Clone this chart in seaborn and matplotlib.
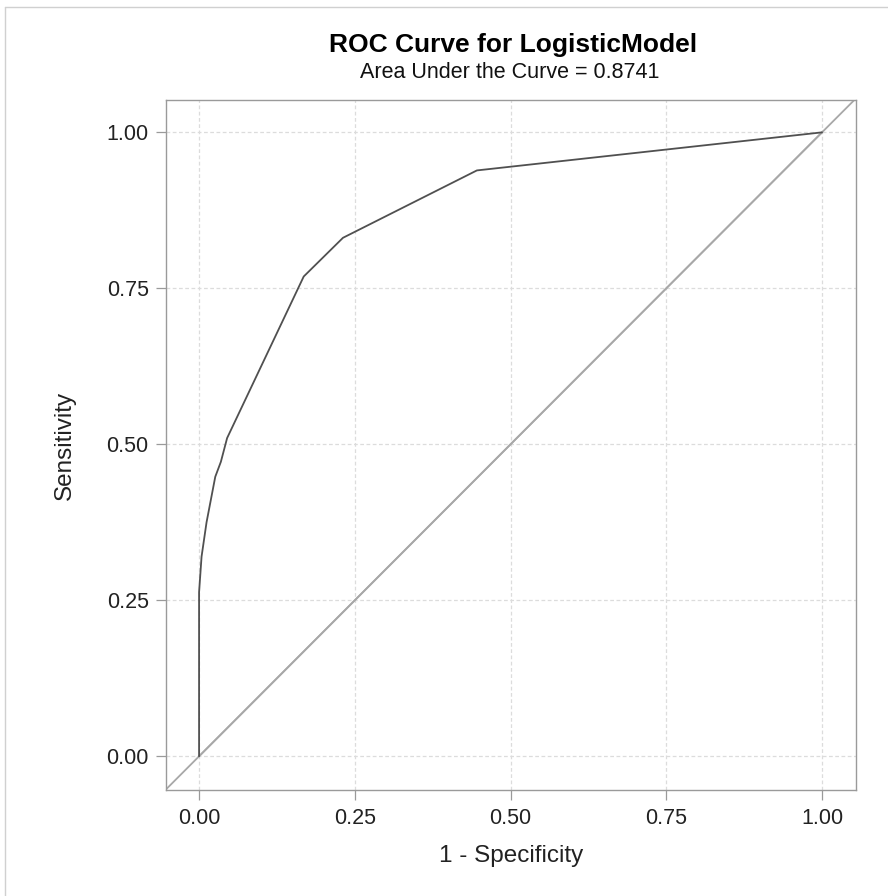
import matplotlib
matplotlib.use("Agg")
import matplotlib.pyplot as plt
import pandas as pd
import seaborn as sns
from matplotlib.lines import Line2D

# ROC points
fpr = [0.0, 0.0, 0.004, 0.012, 0.026, 0.035, 0.045, 0.168, 0.231, 0.446, 1.0]
tpr = [0.0, 0.263, 0.32, 0.375, 0.448, 0.472, 0.51, 0.769, 0.831, 0.939, 1.0]
diag = [0.0, 1.0]
auc = 0.8741
ticks = [0.0, 0.25, 0.5, 0.75, 1.0]

sns.set_style("white")
plt.rcParams["font.family"] = ["Liberation Sans", "DejaVu Sans"]

fig = plt.figure(figsize=(8.88, 8.96), dpi=100)
ax = fig.add_axes([0.187, 0.118, 0.777, 0.770])

df = pd.DataFrame({"fpr": fpr, "tpr": tpr})
sns.lineplot(data=df, x="fpr", y="tpr", sort=False, estimator=None,
             color="#505050", linewidth=1.3, ax=ax, zorder=3)
sns.lineplot(x=diag, y=diag, color="#a8a8a8", linewidth=1.3, ax=ax, zorder=2)
# extend diagonal across whole frame
ax.axline((0, 0), (1, 1), color="#a8a8a8", linewidth=1.3, zorder=2)

ax.set_xlim(-0.053, 1.0546)
ax.set_ylim(-0.0545, 1.0513)
ax.set_xticks(ticks)
ax.set_yticks(ticks)
ax.set_xticklabels([f"{t:.2f}" for t in ticks], fontsize=15.5)
ax.set_yticklabels([f"{t:.2f}" for t in ticks], fontsize=15.5)
ax.grid(True, color="#dcdcdc", linestyle=(0, (3, 2)), linewidth=0.9)
ax.set_axisbelow(True)
for s in ax.spines.values():
    s.set_color("#9a9a9a")
    s.set_linewidth(1.0)
ax.tick_params(axis="both", direction="out", length=7.5, width=0.9,
               color="#9a9a9a", bottom=True, left=True, labelcolor="#222222",
               pad=5)

ax.set_xlabel("1 - Specificity", fontsize=17.5, labelpad=12, color="#222222")
ax.set_ylabel("Sensitivity", fontsize=17.5, labelpad=22, color="#222222")

fig.text(513 / 888, 1 - 52 / 896, "ROC Curve for LogisticModel", ha="center",
         va="baseline", fontsize=19, fontweight="bold", color="#000000")
fig.text(509.5 / 888, 1 - 78 / 896, f"Area Under the Curve = {auc:.4f}",
         ha="center", va="baseline", fontsize=15.5, color="#111111")

# light frame around the graph
fig.add_artist(Line2D([5 / 888, 5 / 888], [0, 1 - 7 / 896],
                      color="#d0d0d0", linewidth=1.0))
fig.add_artist(Line2D([5 / 888, 1], [1 - 7 / 896, 1 - 7 / 896],
                      color="#d0d0d0", linewidth=1.0))

fig.savefig("out.png", dpi=100)
